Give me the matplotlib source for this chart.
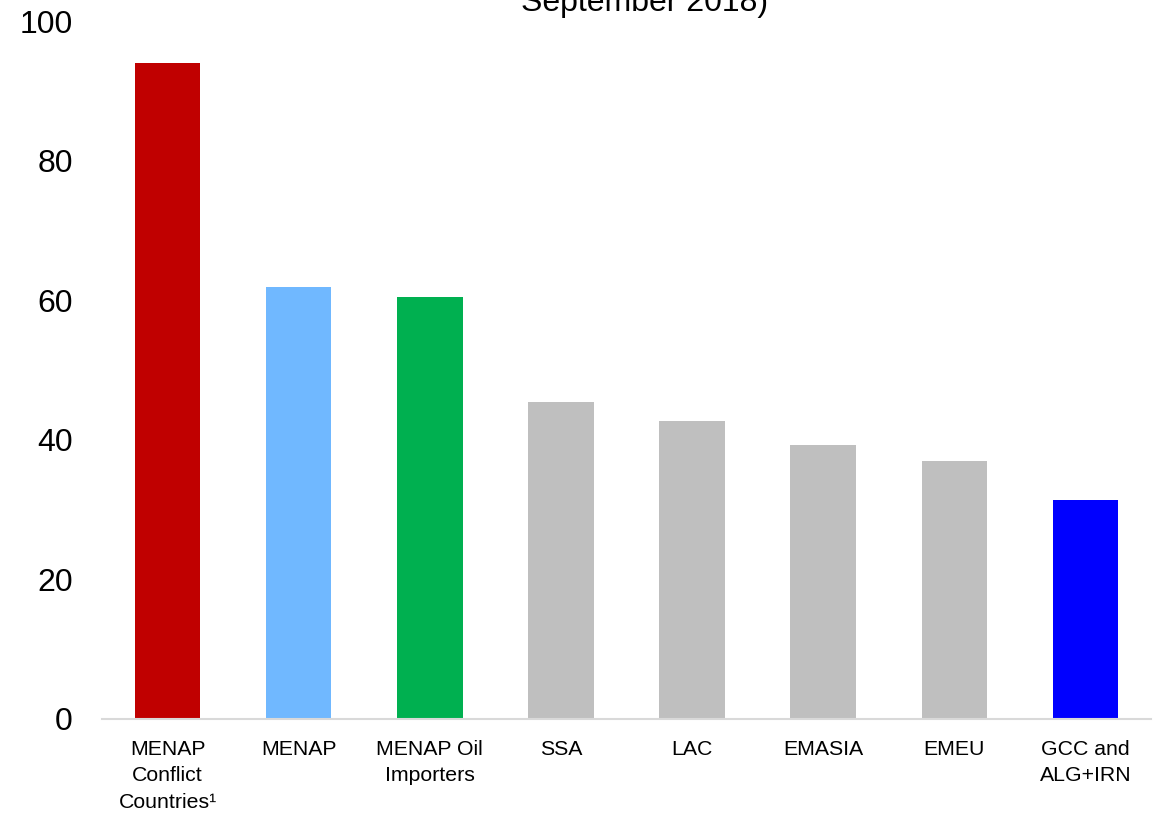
import numpy as np
import matplotlib.pyplot as plt

plt.rcParams['font.family'] = ['Liberation Sans', 'DejaVu Sans']

categories = ['MENAP\nConflict\nCountries\u00b9', 'MENAP', 'MENAP Oil\nImporters', 'SSA',
              'LAC', 'EMASIA', 'EMEU', 'GCC and\nALG+IRN']
values = [94.0, 61.9, 60.5, 45.4, 42.7, 39.3, 37.0, 31.4]
bar_colors = ['#C00000', '#70B8FF', '#00B050', '#BFBFBF', '#BFBFBF', '#BFBFBF', '#BFBFBF', '#0000FF']
yticks = [0, 20, 40, 60, 80, 100]

fig = plt.figure(figsize=(11.58, 8.15), dpi=100)
ax = fig.add_axes([0.0881, 0.1178, 0.9059, 0.8564])

x = np.arange(len(categories))
ax.bar(x, values, width=0.5, color=bar_colors, zorder=2)

ax.set_xlim(-0.5, len(categories) - 0.5)
ax.set_ylim(0, 100)
ax.set_yticks(yticks)
ax.set_xticks(x)
ax.set_xticklabels(categories, fontsize=15.3, linespacing=1.5)
ax.tick_params(axis='y', length=0, labelsize=23, pad=21)
ax.tick_params(axis='x', length=0, pad=15)

for side in ['top', 'right', 'left']:
    ax.spines[side].set_visible(False)
ax.spines['bottom'].set_color('#D9D9D9')
ax.spines['bottom'].set_linewidth(1.5)

# title runs off the top of the picture; only its last line shows
fig.text(0.557, 1 - 11 / 815, 'September 2018)', ha='center', va='baseline', fontsize=23)

fig.savefig('out.png', dpi=100)
